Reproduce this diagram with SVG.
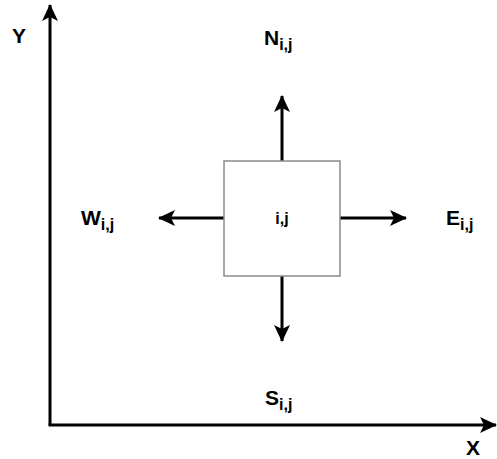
<svg xmlns="http://www.w3.org/2000/svg" width="497" height="459" viewBox="0 0 497 459">
<defs>
<style>
.lbl{font-family:"Liberation Sans",Arial,sans-serif;font-weight:bold;font-size:21px;fill:#000}
.sub{font-size:16px}
.ln{stroke:#000;stroke-width:3;fill:none}
</style>
<marker id="ah" markerUnits="userSpaceOnUse" markerWidth="18" markerHeight="18" viewBox="0 0 18 18" refX="16" refY="9" orient="auto">
<path d="M0,1 L17,9 L0,17 L4,9 Z" fill="#000"/>
</marker>
</defs>
<rect width="497" height="459" fill="#fff"/>
<g id="connectors">
<path class="ln" d="M50,425 L50,5" marker-end="url(#ah)"/>
<path class="ln" d="M48.5,425 L496,425" marker-end="url(#ah)"/>
<path class="ln" d="M282,161 L282,96" marker-end="url(#ah)"/>
<path class="ln" d="M282,276 L282,341" marker-end="url(#ah)"/>
<path class="ln" d="M224,218 L159,218" marker-end="url(#ah)"/>
<path class="ln" d="M340,218 L406,218" marker-end="url(#ah)"/>
</g>
<g id="cell">
<rect x="224" y="161" width="116" height="115" fill="#fff" stroke="#8a8a8a" stroke-width="1.5"/>
<text class="lbl sub" x="282" y="224" text-anchor="middle">i,j</text>
</g>
<g id="axis-y"><text class="lbl" x="12" y="43">Y</text></g>
<g id="axis-x"><text class="lbl" x="466" y="455">X</text></g>
<g id="north"><text class="lbl" x="264" y="45">N<tspan class="sub" dy="5">i,j</tspan></text></g>
<g id="west"><text class="lbl" x="81" y="225">W<tspan class="sub" dy="5">i,j</tspan></text></g>
<g id="east"><text class="lbl" x="446" y="225">E<tspan class="sub" dy="5">i,j</tspan></text></g>
<g id="south"><text class="lbl" x="265" y="405">S<tspan class="sub" dy="5">i,j</tspan></text></g>
</svg>
